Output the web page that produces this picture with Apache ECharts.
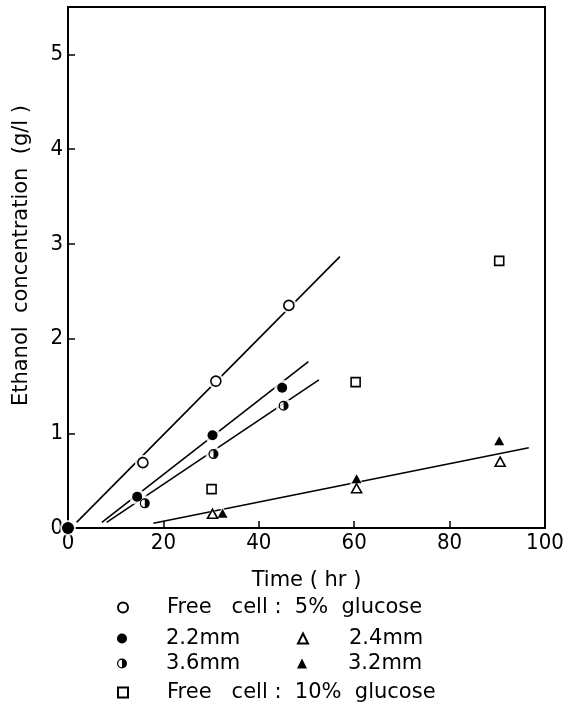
<!DOCTYPE html>
<html>
<head>
<meta charset="utf-8">
<script src="https://cdn.jsdelivr.net/npm/echarts@6/dist/echarts.min.js"></script>
<style>
html,body{margin:0;padding:0;background:#fff;}
#chart{width:568px;height:709px;}
</style>
</head>
<body>
<div id="chart"></div>
<script>
// ---- data ----
var freeCell5 = [[15.7, 0.69], [31.0, 1.55], [46.3, 2.35]];
var bead22 = [[0, 0], [14.5, 0.33], [30.3, 0.98], [44.9, 1.48]];
var bead36 = [[16.1, 0.26], [30.5, 0.78], [45.2, 1.29]];
var freeCell10 = [[30.1, 0.41], [60.3, 1.54], [90.4, 2.82]];
var bead24 = [[30.3, 0.15], [60.5, 0.42], [90.6, 0.70]];
var bead32 = [[32.4, 0.155], [60.5, 0.52], [90.4, 0.92]];
// fitted lines (end points as drawn)
var fitFree5 = [[1.8, 0.06], [57.0, 2.865]];
var fitBead22 = [[7.1, 0.06], [50.4, 1.756]];
var fitBead36 = [[8.1, 0.06], [52.6, 1.563]];
var fitTri = [[17.9, 0.05], [96.6, 0.848]];
var xTicks = [0, 20, 40, 60, 80, 100];
var yTicks = [0, 1, 2, 3, 4, 5];
var names = ['Free   cell :  5%  glucose', '2.2mm', '3.6mm', 'Free   cell :  10%  glucose', '2.4mm', '3.2mm'];

var FONT = "'DejaVu Sans Condensed','DejaVu Sans',sans-serif";
var LFONT = "'DejaVu Sans',sans-serif";
var halfPath = 'path://M10,0A10,10,0,1,1,10,20A10,10,0,1,1,10,0ZM10,2.5A7.5,7.5,0,1,0,10,17.5A7.5,7.5,0,1,0,10,2.5ZM10,0A10,10,0,0,1,10,20Z';

function fitLine(data) {
  return {type: 'line', data: data, symbol: 'none', silent: true, z: 2,
    lineStyle: {color: '#000', width: 1.6}};
}
function halo(data, symbol, size) {
  return {type: 'scatter', data: data, symbol: symbol, symbolSize: size, silent: true, z: 3,
    itemStyle: {color: '#fff', borderWidth: 0}};
}
function openStyle() { return {color: '#fff', borderColor: '#000', borderWidth: 1.6, opacity: 1}; }
function fillStyle() { return {color: '#000', borderWidth: 0, opacity: 1}; }

var chart = echarts.init(document.getElementById('chart'), null, {renderer: 'canvas'});

function legendAt(name, left, top, pad) {
  return {
    data: [name], left: left, top: top, padding: 0, itemWidth: 10, itemHeight: 10,
    selectedMode: false, orient: 'horizontal',
    textStyle: {fontFamily: LFONT, fontSize: 21, color: '#000', padding: [0, 0, 0, pad]}
  };
}

chart.setOption({
  animation: false,
  backgroundColor: '#fff',
  grid: {left: 68, top: 7, width: 477, height: 521, show: true, borderColor: '#000', borderWidth: 2, backgroundColor: 'transparent'},
  xAxis: {
    type: 'value', min: xTicks[0], max: xTicks[xTicks.length - 1], interval: 20,
    name: 'Time ( hr )', nameLocation: 'middle', nameGap: 42,
    nameTextStyle: {fontFamily: LFONT, fontSize: 21, color: '#000'},
    axisLine: {show: true, lineStyle: {color: '#000', width: 2}},
    axisTick: {show: true, inside: true, length: 7, lineStyle: {color: '#000', width: 1.5}},
    axisLabel: {fontFamily: FONT, fontSize: 22, color: '#000', margin: 4},
    splitLine: {show: false}
  },
  yAxis: {
    type: 'value', min: yTicks[0], max: 5.5, interval: 1,
    name: 'Ethanol  concentration  (g/l )', nameLocation: 'middle', nameGap: 36, nameRotate: 90,
    nameTextStyle: {fontFamily: LFONT, fontSize: 21, color: '#000', padding: [0, 0, 0, 24]},
    axisLine: {show: true, lineStyle: {color: '#000', width: 2}},
    axisTick: {show: true, inside: true, length: 7, lineStyle: {color: '#000', width: 1.5}},
    axisLabel: {fontFamily: FONT, fontSize: 22, color: '#000', margin: 5, showMaxLabel: false,
      formatter: function (v) { return yTicks.indexOf(v) >= 0 ? String(v) : ''; }},
    splitLine: {show: false}
  },
  legend: [
    legendAt(names[0], 117, 597, 34),
    legendAt(names[1], 117, 628, 34),
    legendAt(names[2], 117, 653, 34),
    legendAt(names[3], 117, 682, 34),
    legendAt(names[4], 297, 628, 36),
    legendAt(names[5], 297, 653, 36)
  ],
  series: [
    fitLine(fitFree5), fitLine(fitBead22), fitLine(fitBead36), fitLine(fitTri),
    halo(freeCell5, 'circle', 16), halo(bead22, 'circle', 16), halo(bead36, 'circle', 16),
    halo(freeCell10, 'rect', 14), halo(bead24, 'triangle', 15), halo(bead32, 'triangle', 15),
    {name: names[0], type: 'scatter', data: freeCell5, symbol: 'circle', symbolSize: 10, z: 4, itemStyle: openStyle()},
    {name: names[1], type: 'scatter', data: bead22, symbol: 'circle', z: 5,
      symbolSize: function (v) { return v[0] === 0 ? 12 : 10; }, itemStyle: fillStyle()},
    {name: names[2], type: 'scatter', data: bead36, symbol: halfPath, symbolSize: 10, z: 4, itemStyle: fillStyle()},
    {name: names[3], type: 'scatter', data: freeCell10, symbol: 'rect', symbolSize: 9, z: 4, itemStyle: openStyle()},
    {name: names[4], type: 'scatter', data: bead24, symbol: 'triangle', symbolSize: [10, 9], z: 4, itemStyle: openStyle()},
    {name: names[5], type: 'scatter', data: bead32, symbol: 'triangle', symbolSize: [10, 9], z: 4, itemStyle: fillStyle()}
  ]
});
</script>
</body>
</html>
